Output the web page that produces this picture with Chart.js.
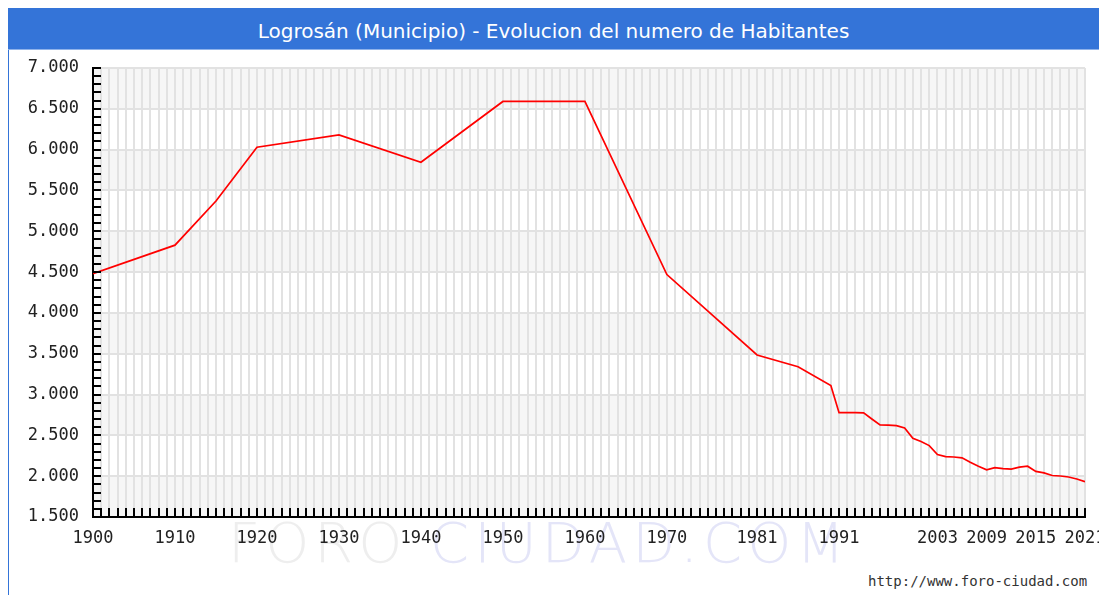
<!DOCTYPE html>
<html>
<head>
<meta charset="utf-8">
<script src="https://cdn.jsdelivr.net/npm/chart.js@4/dist/chart.umd.min.js"></script>
<style>
    body { margin: 0; width: 1099px; height: 595px; overflow: hidden; background: #fff; position: relative; }
    #marco { position: absolute; left: 8px; top: 8px; width: 1200px; height: 700px; border-left: 1px solid #3474d8; }
    #titulo { position: absolute; left: 8px; top: 8px; width: 1091px; height: 42px; background: #3474d8; color: #fff;
              font: 20px "DejaVu Sans", sans-serif; line-height: 42px; padding-top: 2px; text-align: center; border-bottom: 1px solid #8fb2ea; box-sizing: border-box; }
    #marca { position: absolute; left: 228px; top: 510px; font: 200 56px "DejaVu Sans", sans-serif; letter-spacing: 5px; white-space: nowrap; }
    #marca .a { color: #eeeeee; }
    #marca .b { color: #e4e5f8; }
    #pie { position: absolute; left: 868px; top: 573px; font: 14px "DejaVu Sans Mono", monospace; color: #333; }
    #grafico { position: absolute; left: 0; top: 44px; }
</style>
</head>
<body>
<div id="marco"></div>
<div id="titulo">Logrosán (Municipio) - Evolucion del numero de Habitantes</div>
<div id="marca"><span class="a">FORO </span><span class="b">CIUDAD.COM</span></div>
<div id="pie">http://www.foro-ciudad.com</div>
<canvas id="grafico" width="1120" height="506"></canvas>
<script>
// datos
const anios = [1900, 1910, 1915, 1920, 1930, 1940, 1950, 1960, 1970, 1981, 1986, 1990,
    1991, 1992, 1993, 1994, 1995, 1996, 1997, 1998, 1999, 2000, 2001, 2002, 2003, 2004, 2005,
    2006, 2007, 2008, 2009, 2010, 2011, 2012, 2013, 2014, 2015, 2016, 2017, 2018, 2019, 2020, 2021];
const habitantes = [4480, 4830, 5370, 6030, 6180, 5845, 6590, 6590, 4470, 3485, 3340, 3110,
    2778, 2778, 2778, 2775, 2700, 2627, 2625, 2620, 2590, 2465, 2425, 2375, 2265, 2240, 2235,
    2225, 2170, 2122, 2078, 2104, 2092, 2086, 2110, 2122, 2058, 2040, 2008, 2002, 1990, 1965, 1932];
const etiquetasX = [1900, 1910, 1920, 1930, 1940, 1950, 1960, 1970, 1981, 1991, 2003, 2009, 2015, 2021];
const yMin = 1500, yMax = 7000;

function miles(v) {
    return Math.floor(v / 1000) + "." + String(v % 1000).padStart(3, "0");
}

// franjas grises alternas
const fondo = {
    id: "fondo",
    beforeDraw(chart) {
        const ctx = chart.ctx, a = chart.chartArea, y = chart.scales.y;
        ctx.save();
        ctx.fillStyle = "#f6f6f6";
        for (let v = yMin; v < yMax; v += 1000) {
            const top = y.getPixelForValue(v + 500), bot = y.getPixelForValue(v);
            ctx.fillRect(a.left, top, a.right - a.left, bot - top);
        }
        ctx.restore();
    }
};

// marcas de los ejes hacia dentro
const marcas = {
    id: "marcas",
    afterDraw(chart) {
        const ctx = chart.ctx, a = chart.chartArea;
        ctx.save();
        ctx.strokeStyle = "#000";
        ctx.lineWidth = 2;
        ctx.beginPath();
        chart.scales.y.ticks.forEach(t => {
            const py = Math.round(chart.scales.y.getPixelForValue(t.value));
            ctx.moveTo(a.left, py); ctx.lineTo(a.left + 8, py);
        });
        chart.scales.x.ticks.forEach(t => {
            const px = Math.round(chart.scales.x.getPixelForValue(t.value));
            ctx.moveTo(px, a.bottom); ctx.lineTo(px, a.bottom - 9);
        });
        ctx.stroke();
        ctx.restore();
    }
};

new Chart(document.getElementById("grafico"), {
    type: "line",
    data: {
        datasets: [{
            data: anios.map((a, i) => ({ x: a, y: habitantes[i] })),
            borderColor: "#ff0000",
            borderWidth: 1.7,
            pointRadius: 0,
            tension: 0
        }]
    },
    options: {
        responsive: false,
        animation: false,
        devicePixelRatio: 1,
        layout: { padding: { top: 0, right: 35, bottom: 0, left: 0 } },
        plugins: { legend: { display: false }, tooltip: { enabled: false } },
        scales: {
            x: {
                type: "linear",
                min: 1900, max: 2021,
                afterFit: s => { s.height = 33; },
                grid: { color: "#e2e2e2", lineWidth: 2, drawTicks: false },
                border: { display: true, color: "#000", width: 2 },
                ticks: {
                    stepSize: 1, autoSkip: false, maxRotation: 0, padding: 12,
                    color: "#222", font: { family: "DejaVu Sans Mono", size: 17, lineHeight: 20 / 17 },
                    callback: v => etiquetasX.includes(v) ? String(v) : ""
                }
            },
            y: {
                min: yMin, max: yMax,
                afterFit: s => { s.width = 93; },
                grid: { color: c => c.tick.value % 500 === 0 ? "#e2e2e2" : "rgba(0,0,0,0)", lineWidth: 2, drawTicks: false },
                border: { display: true, color: "#000", width: 2 },
                ticks: {
                    stepSize: 100, autoSkip: false, padding: 14,
                    color: "#222", font: { family: "DejaVu Sans Mono", size: 17, lineHeight: 20 / 17 },
                    callback: v => v % 500 === 0 ? miles(v) : ""
                }
            }
        }
    },
    plugins: [fondo, marcas]
});
</script>
</body>
</html>
